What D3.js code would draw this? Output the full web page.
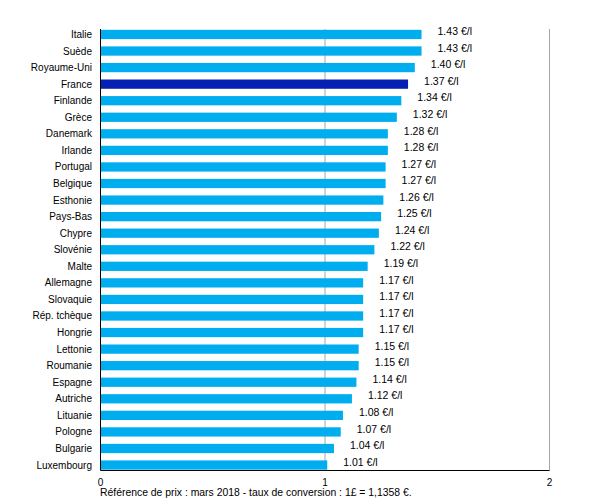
<!DOCTYPE html>
<html><head><meta charset="utf-8">
<script src="https://cdn.jsdelivr.net/npm/d3@7/dist/d3.min.js"></script>
<style>body{margin:0;background:#fff;} text{font-family:"Liberation Sans",Arial,sans-serif;}</style>
</head><body><svg id="c" width="600" height="500"></svg>
<script>
const countries = ["Italie","Suède","Royaume-Uni","France","Finlande","Grèce","Danemark","Irlande","Portugal","Belgique","Esthonie","Pays-Bas","Chypre","Slovénie","Malte","Allemagne","Slovaquie","Rép. tchèque","Hongrie","Lettonie","Roumanie","Espagne","Autriche","Lituanie","Pologne","Bulgarie","Luxembourg"];
const prices = [1.43,1.43,1.40,1.37,1.34,1.32,1.28,1.28,1.27,1.27,1.26,1.25,1.24,1.22,1.19,1.17,1.17,1.17,1.17,1.15,1.15,1.14,1.12,1.08,1.07,1.04,1.01];
const xTicks = [0,1,2];
const highlight = "France";
const footnote = "Référence de prix : mars 2018 - taux de conversion : 1£ = 1,1358 €.";

const svg = d3.select("#c");
const pLeft = 100.5, pRight = 549.5, pTop = 29, pBottom = 470.5;
const x = d3.scaleLinear().domain([0,2]).range([pLeft,pRight]);
const y = d3.scaleBand().domain(countries).range([pTop,pBottom]).paddingInner(0.44).paddingOuter(0.05);

// grid lines
svg.append("g").selectAll("line").data(xTicks.filter(d=>d>0)).join("line")
  .attr("x1",d=>x(d)).attr("x2",d=>x(d)).attr("y1",pTop).attr("y2",pBottom)
  .attr("stroke","#a6a6a6").attr("stroke-width",1);

// bars
svg.append("g").selectAll("rect").data(countries).join("rect")
  .attr("x",x(0)).attr("y",d=>y(d)).attr("height",y.bandwidth())
  .attr("width",(d,i)=>x(prices[i])-x(0))
  .attr("fill",d=>d===highlight?"#0520B2":"#00AEEF");

// value labels
svg.append("g").selectAll("text").data(countries).join("text")
  .attr("x",(d,i)=>x(prices[i])+16).attr("y",d=>y(d)+y.bandwidth()/2-3)
  .attr("dy","0.35em").attr("font-size","10.5px").attr("fill","#000")
  .text((d,i)=>prices[i].toFixed(2)+" €/l");

// category labels
svg.append("g").selectAll("text").data(countries).join("text")
  .attr("x",92).attr("y",d=>y(d)+y.bandwidth()/2)
  .attr("dy","0.35em").attr("text-anchor","end").attr("font-size","10px").attr("fill","#000")
  .text(d=>d);

// axes lines
svg.append("line").attr("x1",pLeft).attr("x2",pLeft).attr("y1",pTop).attr("y2",pBottom).attr("stroke","#000");
svg.append("line").attr("x1",pLeft).attr("x2",pRight).attr("y1",pBottom).attr("y2",pBottom).attr("stroke","#000");

// x tick labels
svg.append("g").selectAll("text").data(xTicks).join("text")
  .attr("x",d=>x(d)).attr("y",482.5).attr("dy","0.35em").attr("text-anchor","middle")
  .attr("font-size","10px").text(d=>d);

svg.append("text").attr("x",100).attr("y",492.5).attr("dy","0.35em").attr("font-size","10.4px").text(footnote);
</script></body></html>
